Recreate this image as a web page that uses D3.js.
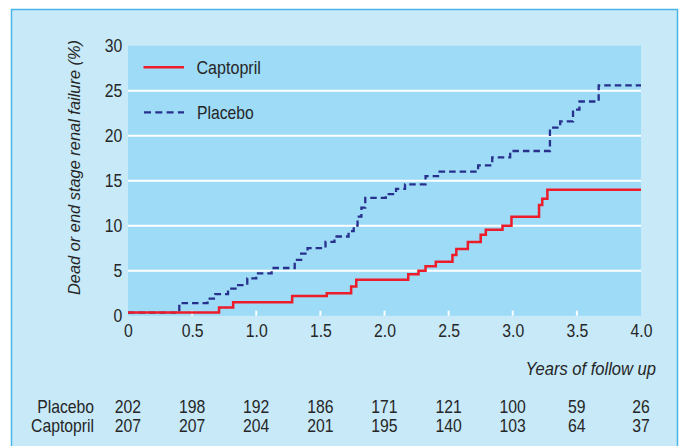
<!DOCTYPE html>
<html>
<head>
<meta charset="utf-8">
<script src="https://cdn.jsdelivr.net/npm/d3@7"></script>
<style>
  html, body { margin: 0; padding: 0; background: #ffffff; }
  svg { display: block; }
  text { font-family: "Liberation Sans", Arial, Helvetica, sans-serif; fill: #262626; }
</style>
</head>
<body>
<svg id="chart" width="682" height="446"></svg>
<script>
// ---- data ----
const timeTicks = [0, 0.5, 1.0, 1.5, 2.0, 2.5, 3.0, 3.5, 4.0];
const timeTickLabels = ["0", "0.5", "1.0", "1.5", "2.0", "2.5", "3.0", "3.5", "4.0"];
const yTicks = [0, 5, 10, 15, 20, 25, 30];
const gridValues = [5, 10, 15, 20, 25];

const seriesNames = ["Captopril", "Placebo"];

const placeboTimes  = [0, 0.40, 0.62, 0.68, 0.78, 0.85, 0.93, 1.00, 1.12, 1.30, 1.35, 1.40, 1.54, 1.61, 1.72, 1.76, 1.79, 1.82, 1.85, 2.01, 2.09, 2.16, 2.32, 2.43, 2.73, 2.84, 2.98, 3.29, 3.37, 3.47, 3.52, 3.67];
const placeboValues = [0.35, 1.4, 1.9, 2.4, 3.0, 3.4, 4.15, 4.7, 5.3, 6.2, 6.9, 7.5, 8.2, 8.8, 9.4, 10.0, 11.0, 12.0, 13.1, 13.5, 14.1, 14.6, 15.5, 16.0, 16.7, 17.6, 18.3, 20.9, 21.6, 22.9, 23.8, 25.6];

const captoprilTimes  = [0, 0.71, 0.82, 1.28, 1.55, 1.74, 1.78, 2.185, 2.265, 2.32, 2.40, 2.53, 2.56, 2.65, 2.75, 2.79, 2.92, 2.99, 3.205, 3.23, 3.27];
const captoprilValues = [0.35, 0.9, 1.5, 2.2, 2.5, 3.25, 4.0, 4.6, 5.0, 5.5, 6.0, 6.75, 7.4, 8.2, 9.0, 9.55, 10.0, 11.0, 12.3, 13.0, 14.0];

const endTime = 4.0;

const atRiskPlacebo   = [202, 198, 192, 186, 171, 121, 100, 59, 26];
const atRiskCaptopril = [207, 207, 204, 201, 195, 140, 103, 64, 37];

const yTitle = "Dead or end stage renal failure (%)";
const xTitle = "Years of follow up";

// ---- drawing ----
const svg = d3.select("#chart");

const colors = {
  outer: "#c7e9f8",
  plot: "#9ddbf6",
  border: "#48b6e6",
  red: "#ec1c2a",
  blue: "#27308c"
};
const FS = 17.5;      // label font size
const SX = 0.9;       // horizontal condensing of label font

// outer panel
svg.append("rect").attr("x", 11.5).attr("y", 9.5).attr("width", 666).attr("height", 446)
  .attr("fill", colors.outer).attr("stroke", colors.border).attr("stroke-width", 1.5);

const plot = { left: 128, right: 641, top: 45.7, bottom: 315.7 };
const x = d3.scaleLinear().domain([0, 4]).range([plot.left, plot.right]);
const y = d3.scaleLinear().domain([0, 30]).range([plot.bottom, plot.top]);

svg.append("rect").attr("x", plot.left).attr("y", plot.top)
  .attr("width", plot.right - plot.left).attr("height", plot.bottom - plot.top)
  .attr("fill", colors.plot);

// gridlines
svg.append("g").selectAll("line").data(gridValues).join("line")
  .attr("x1", plot.left).attr("x2", plot.right)
  .attr("y1", d => y(d)).attr("y2", d => y(d))
  .attr("stroke", "#ffffff").attr("stroke-width", 2);

// inner white tick marks
svg.append("g").selectAll("line").data(timeTicks.slice(1, -1)).join("line")
  .attr("x1", d => x(d)).attr("x2", d => x(d))
  .attr("y1", plot.bottom).attr("y2", plot.bottom - 5)
  .attr("stroke", "#ffffff").attr("stroke-width", 2);

// axes (labels only)
const xAxis = d3.axisBottom(x).tickValues(timeTicks)
  .tickFormat((d, i) => timeTickLabels[i]).tickSize(0).tickPadding(8.5);
const gx = svg.append("g").attr("transform", `translate(0,${plot.bottom})`).call(xAxis);
gx.select(".domain").remove();
gx.selectAll("text").attr("font-size", FS).attr("fill", "#262626")
  .attr("font-family", '"Liberation Sans", Arial, sans-serif')
  .attr("transform", `scale(${SX},1)`);

const yAxis = d3.axisLeft(y).tickValues(yTicks).tickSize(0).tickPadding(6.5);
const gy = svg.append("g").attr("transform", `translate(${plot.left},0)`).call(yAxis);
gy.select(".domain").remove();
gy.selectAll("text").attr("font-size", FS).attr("fill", "#262626")
  .attr("font-family", '"Liberation Sans", Arial, sans-serif')
  .attr("transform", `scale(${SX},1)`);

// step curves
const line = d3.line().x(d => x(d[0])).y(d => y(d[1])).curve(d3.curveStepAfter);
function pts(times, values) {
  const p = times.map((t, i) => [t, values[i]]);
  p.push([endTime, values[values.length - 1]]);
  return p;
}

svg.append("path").datum(pts(placeboTimes, placeboValues))
  .attr("d", line).attr("fill", "none")
  .attr("stroke", colors.blue).attr("stroke-width", 2.3)
  .attr("stroke-dasharray", "6.5,4");

svg.append("path").datum(pts(captoprilTimes, captoprilValues))
  .attr("d", line).attr("fill", "none")
  .attr("stroke", colors.red).attr("stroke-width", 2.5);

// legend
const legend = svg.append("g");
legend.append("line").attr("x1", 143.5).attr("x2", 184).attr("y1", 67.3).attr("y2", 67.3)
  .attr("stroke", colors.red).attr("stroke-width", 2.5);
legend.append("text").attr("transform", "translate(196.5,74) scale(0.87,1)")
  .attr("font-size", 18.5).text(seriesNames[0]);
legend.append("line").attr("x1", 144).attr("x2", 184).attr("y1", 112.3).attr("y2", 112.3)
  .attr("stroke", colors.blue).attr("stroke-width", 2.3).attr("stroke-dasharray", "7,4.3");
legend.append("text").attr("transform", "translate(197,118.5) scale(0.85,1)")
  .attr("font-size", 18.5).text(seriesNames[1]);

// axis titles
svg.append("text")
  .attr("transform", "translate(80,167.5) rotate(-90)")
  .attr("text-anchor", "middle").attr("font-style", "italic").attr("font-size", 16.4)
  .text(yTitle);

svg.append("text").attr("transform", "translate(656,375) scale(0.93,1)").attr("text-anchor", "end")
  .attr("font-style", "italic").attr("font-size", 17.8).text(xTitle);

// numbers at risk
const rows = [
  { label: "Placebo", values: atRiskPlacebo, yPos: 413 },
  { label: "Captopril", values: atRiskCaptopril, yPos: 432 }
];
rows.forEach(r => {
  svg.append("text").attr("transform", `translate(94,${r.yPos}) scale(${SX},1)`)
    .attr("text-anchor", "end").attr("font-size", FS).text(r.label);
  svg.append("g").selectAll("text").data(r.values).join("text")
    .attr("transform", (d, i) => `translate(${x(timeTicks[i])},${r.yPos}) scale(${SX},1)`)
    .attr("text-anchor", "middle").attr("font-size", FS).text(d => d);
});
</script>
</body>
</html>
